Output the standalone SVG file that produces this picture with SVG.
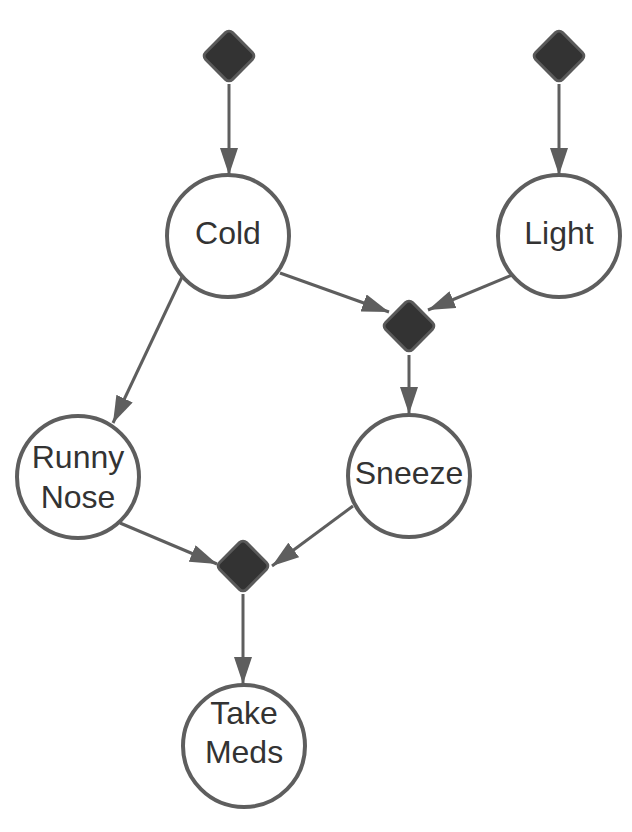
<svg xmlns="http://www.w3.org/2000/svg" width="632" height="832" viewBox="0 0 632 832">
<style>
.node circle{fill:#fff;stroke:#5e5e5e;stroke-width:4}
.gate rect{fill:#333;stroke:#5a5a5a;stroke-width:3}
.lbl{font-family:"Liberation Sans",Arial,sans-serif;font-size:32px;fill:#333;text-anchor:middle}
.edges line{stroke:#5e5e5e;stroke-width:3;fill:none}
</style>
<defs>
<marker id="ah" markerUnits="userSpaceOnUse" markerWidth="28" markerHeight="18" refX="27" refY="9" orient="auto">
<path d="M0,0 L27,9 L0,18 z" fill="#5e5e5e"/>
</marker>
</defs>
<rect width="632" height="832" fill="#fff"/>
<g id="connectors" class="edges">
<line x1="229" y1="84" x2="229" y2="175" marker-end="url(#ah)"/>
<line x1="559" y1="84" x2="559" y2="175" marker-end="url(#ah)"/>
<line x1="280" y1="273" x2="389" y2="312" marker-end="url(#ah)"/>
<line x1="512" y1="275" x2="428" y2="310" marker-end="url(#ah)"/>
<line x1="409" y1="355" x2="409" y2="414" marker-end="url(#ah)"/>
<line x1="182" y1="277" x2="113" y2="423" marker-end="url(#ah)"/>
<line x1="120" y1="523" x2="217" y2="564" marker-end="url(#ah)"/>
<line x1="353" y1="506" x2="272" y2="566" marker-end="url(#ah)"/>
<line x1="243" y1="594" x2="243" y2="684" marker-end="url(#ah)"/>
</g>
<g id="gate-cold" class="gate" transform="translate(229,56) rotate(45)"><rect x="-19" y="-19" width="38" height="38" rx="5"/></g>
<g id="gate-light" class="gate" transform="translate(559,56) rotate(45)"><rect x="-19" y="-19" width="38" height="38" rx="5"/></g>
<g id="gate-sneeze" class="gate" transform="translate(409,326) rotate(45)"><rect x="-19" y="-19" width="38" height="38" rx="5"/></g>
<g id="gate-meds" class="gate" transform="translate(243,566) rotate(45)"><rect x="-19" y="-19" width="38" height="38" rx="5"/></g>
<g id="cold" class="node"><circle cx="228" cy="236" r="61"/><text class="lbl" x="228" y="244">Cold</text></g>
<g id="light" class="node"><circle cx="559" cy="236" r="61"/><text class="lbl" x="559" y="244">Light</text></g>
<g id="runny-nose" class="node"><circle cx="78" cy="477" r="61"/><text class="lbl" x="78" y="468">Runny</text><text class="lbl" x="78" y="508">Nose</text></g>
<g id="sneeze" class="node"><circle cx="409" cy="476" r="61"/><text class="lbl" x="409" y="484">Sneeze</text></g>
<g id="take-meds" class="node"><circle cx="244" cy="746" r="61"/><text class="lbl" x="244" y="724">Take</text><text class="lbl" x="244" y="763">Meds</text></g>
</svg>
